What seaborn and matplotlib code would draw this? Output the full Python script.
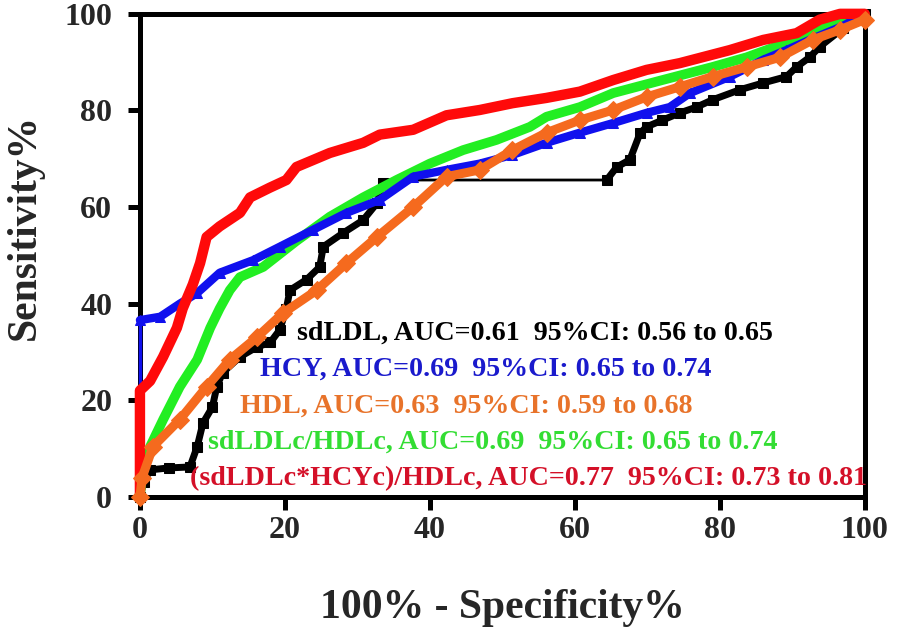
import matplotlib
matplotlib.use("Agg")
import matplotlib.pyplot as plt
import seaborn as sns

# ROC curves (x = 100% - specificity, y = sensitivity)
sdldl_x = [0, 0.5, 1.4, 4, 6.9, 7.9, 8.7, 10, 10.6, 11.4, 13.8, 16.1, 18, 19.3, 20.2, 20.7,
           23, 24.8, 25.3, 28, 30.8, 32.7, 33.5, 36, 64.4, 65.8, 67.6, 69, 69.9, 72.1, 74.5,
           76.8, 79, 82.8, 86, 89.2, 90.6, 92.4, 93.8, 97, 100]
sdldl_y = [0, 3, 5.6, 6, 6.2, 10.4, 15.3, 18.6, 22.8, 25.7, 29, 31, 32, 34.6, 39, 42.8,
           45, 47.6, 51.8, 54.6, 57.3, 60.8, 65, 65.6, 65.6, 68.3, 69.8, 75.3, 76.6, 78, 79.5,
           80.7, 82.2, 84.3, 85.7, 87, 89, 91, 93.2, 97, 100]

hcy_x = [0, 0, 2.8, 5.5, 7.9, 11, 15.6, 19.3, 23.9, 28.5, 33.1, 37.7, 42.3, 46.9, 51.4,
         56.1, 60.7, 65.3, 69.9, 73.1, 75.9, 81.4, 86, 89.2, 93, 97, 100]
hcy_y = [0, 36.6, 37.3, 40, 42.2, 46.4, 49, 51.8, 55.3, 58.8, 61.5, 66.3, 67.7, 69, 70.8,
         73.3, 75.4, 77.4, 79.5, 80.7, 83.6, 87, 90.5, 92.5, 95, 97.5, 100]

ratio_x = [0, 0.3, 1.4, 3.2, 5.5, 7.9, 9.7, 11, 12.4, 13.8, 17, 21.6, 26.2, 30.8, 35.4, 40,
           44.6, 49.2, 53.8, 56.1, 60.7, 65.3, 72.1, 79, 83.7, 89.2, 94, 100]
ratio_y = [0, 5, 10.4, 16, 22.8, 28.4, 35, 39, 42.8, 45.5, 47.6, 53, 58, 62, 65.6, 69,
           71.8, 73.9, 76.6, 78.7, 80.7, 83.6, 86.3, 89, 91, 94, 97, 100]

combo_x = [0, 0, 1.4, 3.2, 5.1, 5.9, 7.3, 8.3, 9.2, 11, 13.8, 15.2, 17.9, 20.2, 21.6, 26.2,
           30.8, 33.1, 37.7, 42.3, 46.9, 51.4, 56.1, 60.7, 65.3, 69.9, 74.5, 81.4, 86, 90.6,
           93.8, 96.6, 100]
combo_y = [0, 22, 24, 29, 35, 39, 44, 48.4, 53.8, 56, 58.8, 62, 64, 65.6, 68.3, 71.2,
           73.3, 75, 76, 79, 80.1, 81.5, 82.6, 83.9, 86.3, 88.4, 89.8, 92.5, 94.6, 96,
           98.8, 100, 100]

hdl_x = [0, 0.3, 1.8, 5.5, 9.2, 12.4, 16.1, 19.7, 24.4, 28.5, 32.7, 37.7, 42.3, 46.9, 51.4,
         56.1, 60.7, 65.3, 69.9, 74.5, 79, 83.7, 88.3, 92.8, 96.6, 100]
hdl_y = [0, 4, 10.4, 16, 22.8, 28.4, 33, 38, 42.8, 48.4, 53.8, 60, 66.3, 67.7, 71.8,
         75.4, 78, 80.1, 82.8, 84.9, 87, 89, 91, 94.6, 96.7, 98.8]

labels = ["sdLDL, AUC=0.61  95%CI: 0.56 to 0.65",
          "HCY, AUC=0.69  95%CI: 0.65 to 0.74",
          "HDL, AUC=0.63  95%CI: 0.59 to 0.68",
          "sdLDLc/HDLc, AUC=0.69  95%CI: 0.65 to 0.74",
          "(sdLDLc*HCYc)/HDLc, AUC=0.77  95%CI: 0.73 to 0.81"]
ticks = [0, 20, 40, 60, 80, 100]

sns.set_style("white")
plt.rcParams['font.family'] = ['Liberation Serif', 'DejaVu Serif']
plt.rcParams['font.weight'] = 'bold'

fig = plt.figure(figsize=(8.97, 6.29), dpi=100)
ax = fig.add_axes([0.156, 0.210, 0.808, 0.768])

kw = dict(sort=False, estimator=None, ax=ax, clip_on=False, legend=False)

# sdLDL: thin line with square markers, thick where the steps are dense
sns.lineplot(x=sdldl_x, y=sdldl_y, color="black", lw=2, **kw)
sns.lineplot(x=sdldl_x[:24], y=sdldl_y[:24], color="black", lw=5, marker="s",
             markersize=7, mec="black", **kw)
sns.lineplot(x=sdldl_x[24:], y=sdldl_y[24:], color="black", lw=5, marker="s",
             markersize=7, mec="black", **kw)

sns.lineplot(x=ratio_x, y=ratio_y, color="#22ee22", lw=7, **kw)

sns.lineplot(x=hcy_x[:2], y=hcy_y[:2], color="#1010ee", lw=2.5, **kw)
sns.lineplot(x=hcy_x[1:], y=hcy_y[1:], color="#1010ee", lw=6, marker="^",
             markersize=7, mec="#1010ee", **kw)

sns.lineplot(x=combo_x, y=combo_y, color="#ff0a0a", lw=7.5, **kw)

sns.lineplot(x=hdl_x, y=hdl_y, color="#f56a1e", lw=6.5, marker="D",
             markersize=9, mec="#f56a1e", **kw)

ax.set_xlim(0, 100)
ax.set_ylim(0, 100)
ax.set_xticks(ticks)
ax.set_yticks(ticks)

for side in ["left", "right", "top", "bottom"]:
    ax.spines[side].set_visible(True)
    ax.spines[side].set_linewidth(3.6)
    ax.spines[side].set_color("black")
    ax.spines[side].set_zorder(1)

ax.tick_params(axis="both", direction="out", length=9, width=3.6, color="black",
               labelsize=23, bottom=True, left=True)
ax.tick_params(axis="y", pad=11)
ax.tick_params(axis="x", pad=5)
for lab in ax.get_xticklabels() + ax.get_yticklabels():
    lab.set_fontweight("bold")

ax.set_xlabel("100% - Specificity%", fontsize=30, fontweight="bold")
ax.set_ylabel("Sensitivity%", fontsize=30, fontweight="bold")
ax.xaxis.set_label_coords(0.5, -0.19)
ax.yaxis.set_label_coords(-0.133, 0.559)

text_colors = ["black", "#1a1acc", "#e8732a", "#33dd33", "#d41028"]
text_pos = [(0.2166, 0.3395), (0.1655, 0.265), (0.138, 0.1884), (0.0938, 0.1139), (0.069, 0.0373)]
for s, c, (tx, ty) in zip(labels, text_colors, text_pos):
    ax.text(tx, ty, s, color=c, fontsize=20.2, fontweight="bold", ha="left", va="center",
            transform=ax.transAxes, zorder=5)

fig.savefig("out.png", dpi=100)
